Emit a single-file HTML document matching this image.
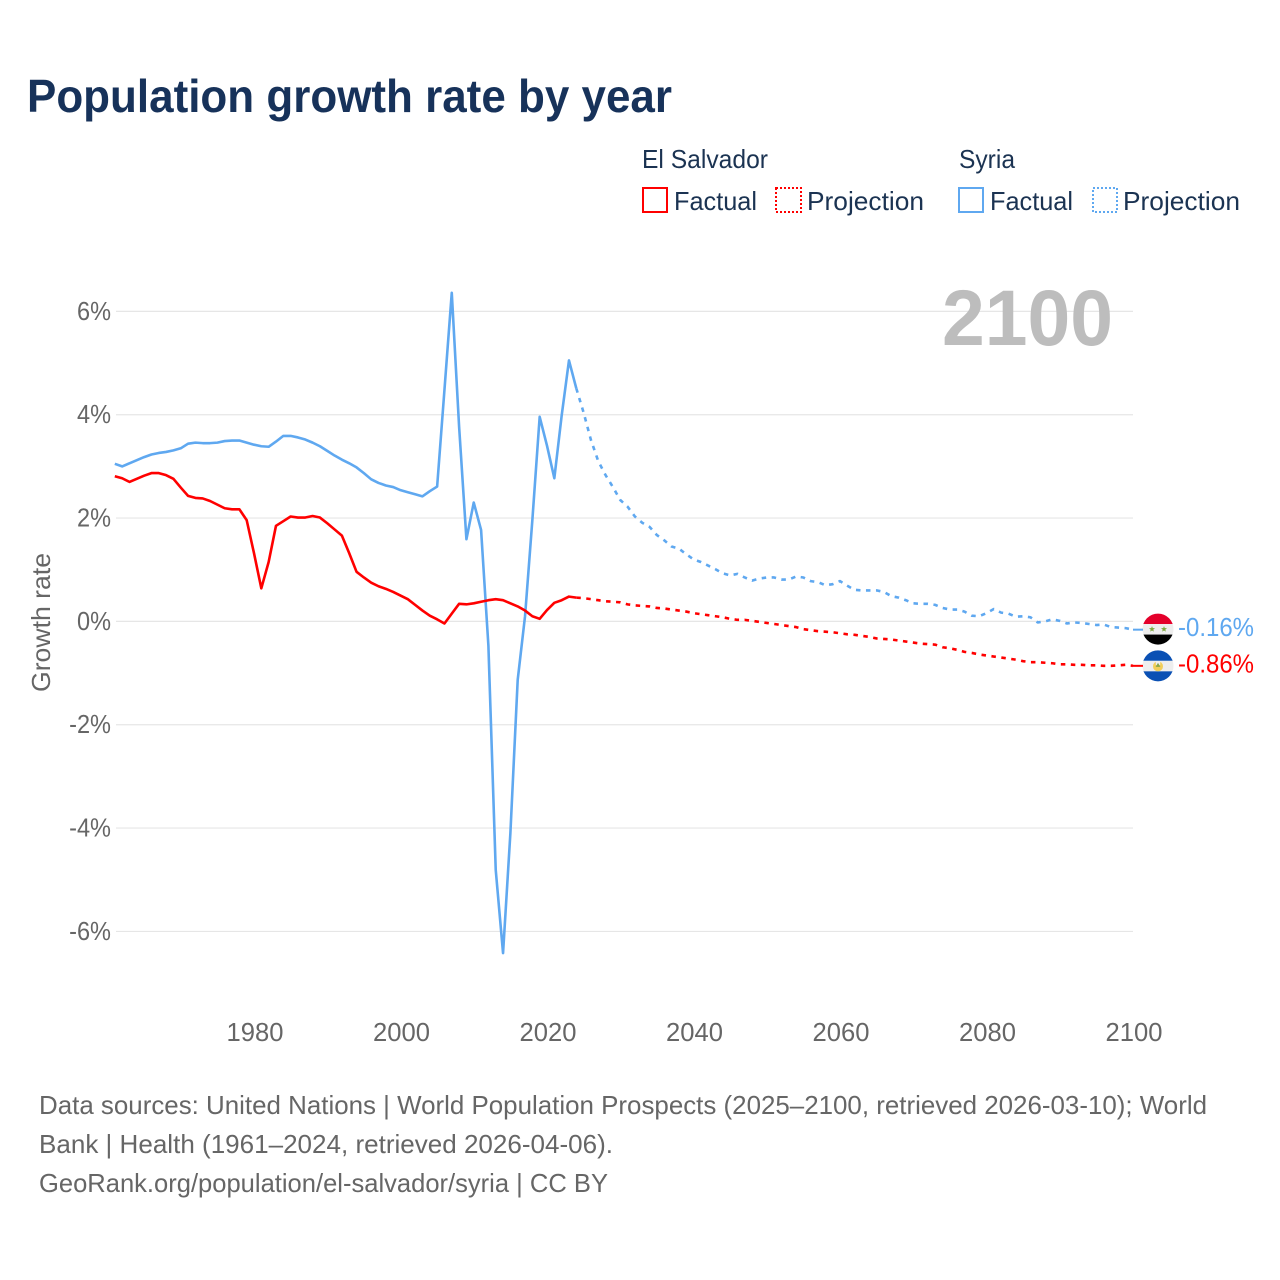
<!DOCTYPE html>
<html lang="en">
<head>
<meta charset="utf-8">
<title>Population growth rate by year</title>
<style>
html,body{margin:0;padding:0;background:#fff;}
svg{display:block;font-family:"Liberation Sans",sans-serif;}
.legend-text{font-size:26px;fill:#1b3352;}
.tick{font-size:25.6px;fill:#666;}
.foot{font-size:26px;fill:#666;}
</style>
</head>
<body>
<svg id="chart" width="1280" height="1280" viewBox="0 0 1280 1280" xmlns="http://www.w3.org/2000/svg">
<defs>
<clipPath id="flag-clip"><circle cx="0" cy="0" r="15.5"></circle></clipPath>
</defs>
<rect x="0" y="0" width="1280" height="1280" fill="#fff"></rect>
<text x="27" y="112" font-size="46" font-weight="700" fill="#17325a" textLength="645" lengthAdjust="spacingAndGlyphs">Population growth rate by year</text>

<g>
<text class="legend-text" x="642" y="168" textLength="126" lengthAdjust="spacingAndGlyphs">El Salvador</text>
<text class="legend-text" x="959" y="168" textLength="56" lengthAdjust="spacingAndGlyphs">Syria</text>
<g>
<rect x="643" y="188" width="24" height="24" fill="none" stroke="#ff0000" stroke-width="2"></rect>
<text class="legend-text" x="674" y="210" textLength="83" lengthAdjust="spacingAndGlyphs">Factual</text>
</g>
<g>
<rect x="776" y="188" width="25" height="24" fill="none" stroke="#ff0000" stroke-width="2" stroke-dasharray="2 2"></rect>
<text class="legend-text" x="807" y="210" textLength="117" lengthAdjust="spacingAndGlyphs">Projection</text>
</g>
<g>
<rect x="959" y="188" width="24" height="24" fill="none" stroke="#5fa8f0" stroke-width="2"></rect>
<text class="legend-text" x="990" y="210" textLength="83" lengthAdjust="spacingAndGlyphs">Factual</text>
</g>
<g>
<rect x="1093" y="188" width="24" height="24" fill="none" stroke="#5fa8f0" stroke-width="2" stroke-dasharray="2 2"></rect>
<text class="legend-text" x="1123" y="210" textLength="117" lengthAdjust="spacingAndGlyphs">Projection</text>
</g>
</g>

<g id="grid"></g>
<text x="942" y="345" font-size="79" font-weight="700" fill="#bdbdbd" textLength="171" lengthAdjust="spacingAndGlyphs">2100</text>
<g id="y-axis"></g>
<g id="x-axis"></g>
<text class="tick" transform="translate(50,622.5) rotate(-90)" text-anchor="middle" textLength="139" lengthAdjust="spacingAndGlyphs">Growth rate</text>
<g id="series"></g>

<g id="flag-syria">
<g clip-path="url(#flag-clip)">
<rect x="-16" y="-16" width="32" height="11" fill="#e4002b"></rect>
<rect x="-16" y="-5" width="32" height="10.5" fill="#eeeeee"></rect>
<rect x="-16" y="5.5" width="32" height="11" fill="#000000"></rect>
<polygon points="-6,-3 -5.2,-0.9 -3,-0.9 -4.7,0.5 -4.1,2.6 -6,1.4 -7.9,2.6 -7.3,0.5 -9,-0.9 -6.8,-0.9" fill="#7fa83f"></polygon>
<polygon points="6,-3 6.8,-0.9 9,-0.9 7.3,0.5 7.9,2.6 6,1.4 4.1,2.6 4.7,0.5 3,-0.9 5.2,-0.9" fill="#7fa83f"></polygon>
</g>
</g>
<g id="flag-el-salvador">
<g clip-path="url(#flag-clip)">
<rect x="-16" y="-16" width="32" height="11" fill="#0a50b4"></rect>
<rect x="-16" y="-5" width="32" height="10.5" fill="#eeeeee"></rect>
<rect x="-16" y="5.5" width="32" height="11" fill="#0a50b4"></rect>
<circle cx="0" cy="0.5" r="5" fill="#f2cf5b"></circle>
<rect x="-2.2" y="-4.8" width="4.4" height="4" fill="#eeeeee"></rect>
<polygon points="0,-3 2.4,1 -2.4,1" fill="#8aa84a"></polygon>
</g>
</g>
<g id="end-labels"></g>

<g>
<text class="foot" x="39" y="1114" textLength="1168" lengthAdjust="spacingAndGlyphs">Data sources: United Nations | World Population Prospects (2025–2100, retrieved 2026-03-10); World</text>
<text class="foot" x="39" y="1153" textLength="574" lengthAdjust="spacingAndGlyphs">Bank | Health (1961–2024, retrieved 2026-04-06).</text>
<text class="foot" x="39" y="1192" textLength="569" lengthAdjust="spacingAndGlyphs">GeoRank.org/population/el-salvador/syria | CC BY</text>
</g>
</svg>
<script>
const factualStartYear = 1961;
const projectionStartYear = 2024;
const xTickYears = [1980, 2000, 2020, 2040, 2060, 2080, 2100];
const yTickValues = [6, 4, 2, 0, -2, -4, -6];

const syriaFactual = [
  3.05,3.00,3.06,3.12,3.18,3.23,3.26,3.28,3.31,3.35,
  3.44,3.46,3.45,3.45,3.46,3.49,3.50,3.50,3.46,3.42,
  3.39,3.38,3.48,3.59,3.59,3.56,3.52,3.46,3.39,3.30,
  3.21,3.13,3.06,2.98,2.87,2.75,2.68,2.63,2.60,2.54,
  2.50,2.46,2.42,2.52,2.61,4.48,6.36,3.77,1.59,2.30,
  1.77,-0.47,-4.81,-6.42,-4.10,-1.13,0.10,1.96,3.96,3.40,
  2.77,3.98,5.05,4.51
];
const syriaProjection = [
  4.51,4.04,3.51,3.10,2.83,2.60,2.35,2.22,2.03,1.91,1.83,1.67,1.57,1.45,1.41,1.30,1.20,
  1.15,1.08,1.01,0.93,0.89,0.92,0.85,0.79,0.83,0.85,
  0.85,0.81,0.81,0.87,0.85,0.78,0.76,0.70,0.72,0.78,
  0.69,0.61,0.60,0.60,0.60,0.57,0.49,0.46,0.41,0.35,
  0.34,0.34,0.32,0.26,0.23,0.23,0.19,0.11,0.10,0.16,
  0.24,0.17,0.15,0.09,0.10,0.08,-0.02,0.00,0.04,0.01,
  -0.04,-0.02,-0.03,-0.05,-0.07,-0.06,-0.11,-0.12,-0.13,-0.16
];
const salvadorFactual = [
  2.81,2.77,2.70,2.76,2.82,2.87,2.87,2.83,2.76,2.59,
  2.43,2.39,2.38,2.33,2.26,2.19,2.17,2.17,1.96,1.32,
  0.64,1.15,1.85,1.94,2.03,2.01,2.01,2.04,2.01,1.90,
  1.78,1.66,1.32,0.96,0.85,0.75,0.68,0.63,0.57,0.50,
  0.43,0.32,0.21,0.11,0.04,-0.04,0.15,0.34,0.33,0.35,
  0.38,0.41,0.43,0.41,0.35,0.29,0.21,0.10,0.05,0.22,
  0.36,0.41,0.48,0.46
];
const salvadorProjection = [
  0.46,0.45,0.43,0.41,0.39,0.38,0.37,0.33,0.31,0.30,0.29,0.26,0.25,0.23,0.21,0.19,0.16,
  0.14,0.12,0.10,0.08,0.05,0.03,0.03,0.01,-0.01,-0.03,
  -0.05,-0.07,-0.09,-0.11,-0.15,-0.17,-0.19,-0.20,-0.21,-0.23,
  -0.25,-0.26,-0.28,-0.30,-0.33,-0.34,-0.35,-0.37,-0.39,-0.41,
  -0.43,-0.44,-0.45,-0.50,-0.52,-0.55,-0.59,-0.61,-0.64,-0.66,
  -0.68,-0.70,-0.72,-0.74,-0.77,-0.79,-0.79,-0.80,-0.81,-0.83,
  -0.83,-0.84,-0.84,-0.85,-0.85,-0.86,-0.86,-0.85,-0.84,-0.86
];

const SVG_NS = 'http://www.w3.org/2000/svg';
const RED = '#ff0000';
const BLUE = '#5fa8f0';
function xScale(year) { return 254 + (year - 1980) * 7.325; }
function yScale(value) { return 621.4 - value * 51.67; }
function linePath(values, startYear) {
  return values.map(function (v, i) {
    return (i ? 'L' : 'M') + xScale(startYear + i).toFixed(2) + ' ' + yScale(v).toFixed(2);
  }).join('');
}

const gridGroup = document.getElementById('grid');
const yAxisGroup = document.getElementById('y-axis');
yTickValues.forEach(function (v) {
  const g = document.createElementNS(SVG_NS, 'line');
  
  
  g.setAttribute('x1', 116);
  g.setAttribute('x2', 1133);
  g.setAttribute('y1', yScale(v));
  g.setAttribute('y2', yScale(v));
  g.setAttribute('stroke', '#e6e6e6');
  g.setAttribute('stroke-width', 1.2);
  gridGroup.appendChild(g);

  const t = document.createElementNS(SVG_NS, 'text');
  
  
  t.setAttribute('class', 'tick');
  t.setAttribute('x', 111);
  t.setAttribute('y', yScale(v) + 8.5);
  t.setAttribute('text-anchor', 'end');
  t.textContent = v + '%';
  yAxisGroup.appendChild(t);
  t.setAttribute('textLength', (t.getComputedTextLength() * 0.92).toFixed(1));
  t.setAttribute('lengthAdjust', 'spacingAndGlyphs');
});

const xAxisGroup = document.getElementById('x-axis');
xTickYears.forEach(function (year) {
  const t = document.createElementNS(SVG_NS, 'text');
  
  
  t.setAttribute('class', 'tick');
  t.setAttribute('x', xScale(year) + 1);
  t.setAttribute('y', 1041);
  t.setAttribute('text-anchor', 'middle');
  t.textContent = year;
  xAxisGroup.appendChild(t);
});

const seriesGroup = document.getElementById('series');
function addLine(name, values, startYear, color, dashed) {
  const p = document.createElementNS(SVG_NS, 'path');
  
  
  p.setAttribute('d', linePath(values, startYear));
  p.setAttribute('fill', 'none');
  p.setAttribute('stroke', color);
  p.setAttribute('stroke-width', 2.6);
  p.setAttribute('stroke-linejoin', 'round');
  if (dashed) p.setAttribute('stroke-dasharray', '4.5 5.5');
  seriesGroup.appendChild(p);
}
addLine('syria-factual-line', syriaFactual, factualStartYear, BLUE, false);
addLine('syria-projection-line', syriaProjection, projectionStartYear, BLUE, true);
addLine('el-salvador-factual-line', salvadorFactual, factualStartYear, RED, false);
addLine('el-salvador-projection-line', salvadorProjection, projectionStartYear, RED, true);

const lastSyria = syriaProjection[syriaProjection.length - 1];
const lastSalvador = salvadorProjection[salvadorProjection.length - 1];
const endLabels = document.getElementById('end-labels');

document.getElementById('flag-syria').setAttribute('transform', 'translate(1158,' + (yScale(lastSyria) - 0.6) + ')');
document.getElementById('flag-el-salvador').setAttribute('transform', 'translate(1158,' + yScale(lastSalvador) + ')');

function addEnd(name, value, color) {
  const c = document.createElementNS(SVG_NS, 'line');
  
  
  c.setAttribute('x1', xScale(2100));
  c.setAttribute('x2', 1143);
  c.setAttribute('y1', yScale(value));
  c.setAttribute('y2', yScale(value));
  c.setAttribute('stroke', color);
  c.setAttribute('stroke-width', 2);
  endLabels.appendChild(c);

  const t = document.createElementNS(SVG_NS, 'text');
  
  
  t.setAttribute('x', 1178);
  t.setAttribute('y', yScale(value) + 6.5);
  t.setAttribute('font-size', 26);
  t.setAttribute('fill', color);
  t.setAttribute('textLength', 76);
  t.setAttribute('lengthAdjust', 'spacingAndGlyphs');
  t.textContent = value.toFixed(2) + '%';
  endLabels.appendChild(t);
}
addEnd('syria', lastSyria, BLUE);
addEnd('el-salvador', lastSalvador, RED);
</script>
</body>
</html>
